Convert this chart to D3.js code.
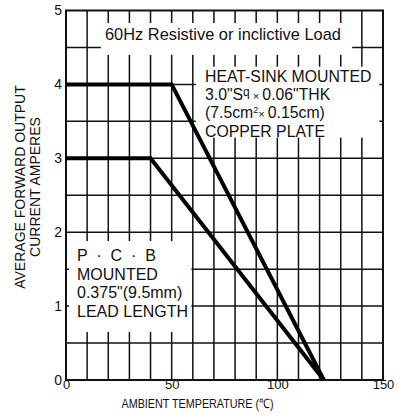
<!DOCTYPE html>
<html>
<head>
<meta charset="utf-8">
<script src="https://cdn.jsdelivr.net/npm/d3@7"></script>
<style>
body { margin: 0; background: #fff; }
text { font-family: "Liberation Sans", Arial, Helvetica, sans-serif; fill: #111; }
</style>
</head>
<body>
<div id="chart"></div>
<script>
// curve data (ambient temp in C, current in A)
var heatSinkTemps = [0, 50, 122];
var heatSinkAmps = [4, 4, 0];
var pcbTemps = [0, 40, 122];
var pcbAmps = [3, 3, 0];

var xTicks = [0, 50, 100, 150];
var yTicks = [0, 1, 2, 3, 4, 5];

var topNote = "60Hz Resistive or inclictive Load";
var pcbNote = ["P  \u00b7  C  \u00b7  B", "MOUNTED", "0.375\"(9.5mm)", "LEAD LENGTH"];

var margin = { top: 10.5, right: 21, bottom: 40, left: 66 };
var width = 404 - margin.left - margin.right;
var height = 420 - margin.top - margin.bottom;

var svg = d3.select("#chart").append("svg")
    .attr("width", 404)
    .attr("height", 420)
    .append("g")
    .attr("transform", "translate(" + margin.left + "," + margin.top + ")");

var x = d3.scaleLinear().domain([0, 150]).range([0, width]);
var y = d3.scaleLinear().domain([0, 5]).range([height, 0]);

// grid
svg.selectAll(".vgrid")
    .data(d3.range(10, 150, 10))
    .enter().append("line")
    .attr("x1", function(d) { return x(d); })
    .attr("x2", function(d) { return x(d); })
    .attr("y1", 0)
    .attr("y2", height)
    .attr("stroke", "#111")
    .attr("stroke-width", 1.5);

svg.selectAll(".hgrid")
    .data(d3.range(0.5, 5, 0.5))
    .enter().append("line")
    .attr("x1", 0)
    .attr("x2", width)
    .attr("y1", function(d) { return y(d); })
    .attr("y2", function(d) { return y(d); })
    .attr("stroke", "#111")
    .attr("stroke-width", 1.5);

// white boxes behind the notes (in data units)
var masks = [
    { x0: 16.5, x1: 135.4, y0: 4.83, y1: 4.40 },
    { x0: 61.4, x1: 148.3, y0: 4.24, y1: 3.28 },
    { x0: 1.5, x1: 59.3, y0: 1.88, y1: 0.65 }
];
svg.selectAll(".mask")
    .data(masks)
    .enter().append("rect")
    .attr("x", function(d) { return x(d.x0); })
    .attr("y", function(d) { return y(d.y0); })
    .attr("width", function(d) { return x(d.x1) - x(d.x0); })
    .attr("height", function(d) { return y(d.y1) - y(d.y0); })
    .attr("fill", "#fff");

// frame
svg.append("rect")
    .attr("width", width)
    .attr("height", height)
    .attr("fill", "none")
    .attr("stroke", "#111")
    .attr("stroke-width", 2);

// axes (labels only)
var xAxis = d3.axisBottom(x).tickValues(xTicks).tickSize(0).tickPadding(0);
svg.append("g")
    .attr("class", "axis x-axis")
    .attr("transform", "translate(0," + height + ")")
    .call(xAxis)
    .call(function(g) { g.select(".domain").remove(); })
    .selectAll("text")
    .attr("dy", "0.78em")
    .attr("y", -1)
    .style("font-size", "13px");

var yAxis = d3.axisLeft(y).tickValues(yTicks).tickFormat(d3.format("d")).tickSize(0).tickPadding(4);
svg.append("g")
    .attr("class", "axis y-axis")
    .call(yAxis)
    .call(function(g) { g.select(".domain").remove(); })
    .selectAll("text")
    .style("font-size", "14px");

svg.selectAll(".axis text").attr("fill", "#111").style("font-family", "\"Liberation Sans\", Arial, sans-serif");

// axis titles
svg.append("text")
    .attr("x", 197.5 - margin.left)
    .attr("y", height + 27.5)
    .attr("textLength", 152)
    .attr("lengthAdjust", "spacingAndGlyphs")
    .style("text-anchor", "middle")
    .style("font-size", "13px")
    .text("AMBIENT TEMPERATURE (\u2103)");

var ytitle = svg.append("text")
    .attr("transform", "translate(" + (25 - margin.left) + "," + (187 - margin.top) + ") rotate(-90)")
    .style("text-anchor", "middle")
    .style("font-size", "14px");
ytitle.append("tspan").attr("x", 0).attr("y", 0).text("AVERAGE FORWARD OUTPUT");
ytitle.append("tspan").attr("x", 0).attr("y", 15).text("CURRENT AMPERES");

// curves
var line = d3.line()
    .x(function(d) { return x(d[0]); })
    .y(function(d) { return y(d[1]); });

svg.append("path")
    .datum(d3.zip(heatSinkTemps, heatSinkAmps))
    .attr("d", line)
    .attr("fill", "none")
    .attr("stroke", "#000")
    .attr("stroke-width", 4);

svg.append("path")
    .datum(d3.zip(pcbTemps, pcbAmps))
    .attr("d", line)
    .attr("fill", "none")
    .attr("stroke", "#000")
    .attr("stroke-width", 4);

// notes
svg.append("text")
    .attr("x", 105 - margin.left)
    .attr("y", 29.5)
    .style("font-size", "16.4px")
    .text(topNote);

var hs = svg.append("g")
    .attr("transform", "translate(" + (205 - margin.left) + ",71)")
    .style("font-size", "15.8px");
hs.append("text").attr("y", 0).text("HEAT-SINK MOUNTED");
var l2 = hs.append("text").attr("y", 18.3);
l2.append("tspan").text("3.0\"S");
l2.append("tspan").attr("dy", -4).style("font-size", "12px").text("q");
l2.append("tspan").attr("dy", 4).style("font-size", "11px").text("  \u00d7 ");
l2.append("tspan").text("0.06\"THK");
var l3 = hs.append("text").attr("y", 36.6);
l3.append("tspan").text("(7.5cm");
l3.append("tspan").attr("dy", -5).style("font-size", "9px").text("2");
l3.append("tspan").attr("dy", 5).style("font-size", "11px").text("\u00d7 ");
l3.append("tspan").text("0.15cm)");
hs.append("text").attr("y", 55).text("COPPER PLATE");

svg.append("g")
    .attr("transform", "translate(" + (77 - margin.left) + "," + (261 - margin.top) + ")")
    .selectAll("text")
    .data(pcbNote)
    .enter().append("text")
    .attr("y", function(d, i) { return i * 18.5; })
    .style("font-size", "16px")
    .style("white-space", "pre")
    .text(function(d) { return d; });
</script>
</body>
</html>
